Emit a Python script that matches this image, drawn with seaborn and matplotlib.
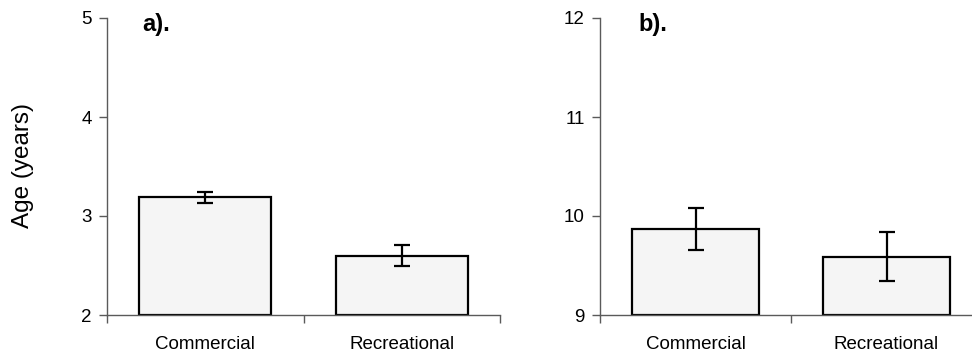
import matplotlib
matplotlib.use("Agg")
import matplotlib.pyplot as plt
import seaborn as sns

# Mean age by fishery sector, with error half-widths
categories = ["Commercial", "Recreational"]
age_a = [3.19, 2.60]
err_a = [0.054, 0.105]
age_b = [9.87, 9.59]
err_b = [0.215, 0.25]

sns.set_theme(style="white")
plt.rcParams["font.family"] = ["Liberation Sans", "DejaVu Sans"]
plt.rcParams["text.color"] = "black"
plt.rcParams["xtick.labelcolor"] = "black"
plt.rcParams["ytick.labelcolor"] = "black"
plt.rcParams["axes.labelcolor"] = "black"

fig = plt.figure(figsize=(9.72, 3.56), dpi=100)
W, H = 972, 356
ax_a = fig.add_axes([107 / W, 41 / H, 393 / W, 297 / H])
ax_b = fig.add_axes([600 / W, 41 / H, 382 / W, 297 / H])

AXIS_GREY = "#5a5a5a"


def panel(ax, values, errors, ylim, letter, letter_x):
    sns.barplot(x=categories, y=values, ax=ax, color="#f5f5f5", saturation=1,
                width=0.67, edgecolor="black", linewidth=1.6, errorbar=None)
    # bars start at the lower axis limit so their bottom edge shows
    base = ylim[0]
    for p in ax.patches:
        top = p.get_y() + p.get_height()
        p.set_y(base)
        p.set_height(top - base)
    ax.errorbar(range(len(values)), values, yerr=errors, fmt="none",
                ecolor="black", elinewidth=1.6, capsize=6, capthick=1.6,
                zorder=3)
    ax.set_ylim(*ylim)
    ax.set_xlim(-0.5, 1.5)
    ax.set_yticks(range(ylim[0], ylim[1] + 1))
    ax.tick_params(axis="y", which="major", left=True, length=6, width=1,
                   color=AXIS_GREY, labelsize=13.5, pad=5,
                   labelcolor="black")
    # ticks between categories, labels centred under the bars
    ax.set_xticks([-0.5, 0.5, 1.5])
    ax.set_xticklabels([])
    ax.set_xticks([0, 1], minor=True)
    ax.set_xticklabels(categories, minor=True)
    ax.tick_params(axis="x", which="major", bottom=True, length=6, width=1,
                   color=AXIS_GREY)
    ax.tick_params(axis="x", which="minor", bottom=False, length=0,
                   labelsize=13.5, pad=15, labelcolor="black")
    for side in ("top", "right"):
        ax.spines[side].set_visible(False)
    for side in ("left", "bottom"):
        ax.spines[side].set_color(AXIS_GREY)
        ax.spines[side].set_linewidth(1)
    ax.set_xlabel("")
    ax.set_ylabel("")
    ax.text(letter_x, 1.018, letter, transform=ax.transAxes, fontsize=17,
            fontweight="bold", ha="left", va="top", color="black")


panel(ax_a, age_a, err_a, (2, 5), "a).", 0.089)
panel(ax_b, age_b, err_b, (9, 12), "b).", 0.102)

ax_a.set_ylabel("Age (years)", fontsize=17.5, color="black")
ax_a.yaxis.set_label_coords(-0.186, 0.502)

fig.savefig("out.png", dpi=100)
